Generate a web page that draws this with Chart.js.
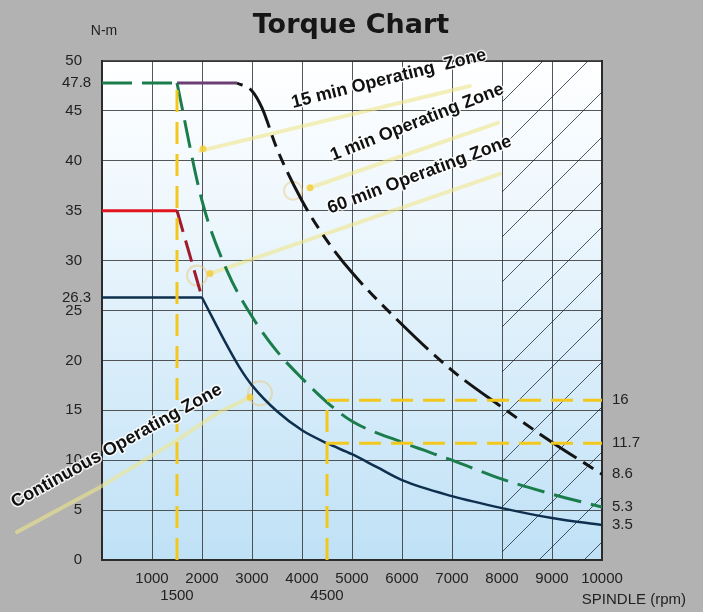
<!DOCTYPE html>
<html>
<head>
<meta charset="utf-8">
<title>Torque Chart</title>
<script src="https://cdn.jsdelivr.net/npm/chart.js@4/dist/chart.umd.min.js"></script>
<style>
  html, body { margin: 0; padding: 0; background: #b2b2b2; }
  #torque-chart { display: block; }
</style>
</head>
<body>
<canvas id="torque-chart" width="703" height="612"></canvas>
<script>
// spindle speed (rpm) / torque (N-m)
const continuousRpm = [0, 2000, 2500, 2750, 3000, 3500, 4000, 4500, 5000, 5500, 6000, 7000, 8000, 9000, 10000];
const continuousTorque = [26.3, 26.3, 21.5, 19.3, 17.5, 14.9, 13.0, 11.7, 10.6, 9.3, 8.0, 6.4, 5.2, 4.2, 3.5];

const min60Rpm = [0, 1500, 2000];
const min60Torque = [35, 35, 26.3];

const min1Rpm = [0, 1500, 2000, 2500, 3000, 3500, 4000, 4500, 5000, 6000, 7000, 8000, 9000, 10000];
const min1Torque = [47.8, 47.8, 36, 29, 24.4, 20.9, 18.2, 15.8, 13.9, 11.8, 10.0, 8.1, 6.6, 5.3];

const min15Rpm = [1500, 2700, 3000, 3200, 3500, 4000, 4500, 5000, 6000, 7000, 8000, 9000, 10000];
const min15Torque = [47.8, 47.8, 47, 45.3, 41.2, 36, 32, 28.8, 23.6, 19, 15.3, 11.8, 8.6];

// yellow guide lines: [rpm from, rpm to], [torque from, torque to]
const guideRpm = [[1500, 1500], [4500, 4500], [4500, 10000], [4500, 10000]];
const guideTorque = [[0, 47.8], [0, 16], [16, 16], [11.7, 11.7]];

const xTicks = [0, 1000, 1500, 2000, 3000, 4000, 4500, 5000, 6000, 7000, 8000, 9000, 10000];
const leftExtraTicks = [47.8, 26.3];
const rightTicks = [16, 11.7, 8.6, 5.3, 3.5];
const hatchFrom = 8000;

// zone labels: text, anchor [rpm, torque], angle in degrees
const zoneLabels = [
    ["15 min Operating  Zone", [3820, 45.3], -14],
    ["1 min Operating Zone", [4620, 40.0], -21.5],
    ["60 min Operating Zone", [4560, 34.7], -20.5],
    ["Continuous Operating Zone", [-1740, 5.2], -29]
];
// pale pointer lines and the circles they point at
const pointerLines = [
    [[1960, 41], [7360, 47.5]],
    [[4160, 37.3], [7920, 43.8]],
    [[2160, 28.7], [7960, 38.7]],
    [[-1700, 2.8], [-40, 7.3], [1500, 12], [2300, 14.7], [2960, 16.3]]
];
const pointerCircles = [[3820, 37, 9], [1900, 28.5, 10], [3160, 16.7, 12]];
const pointerTips = [[2020, 41.2], [4160, 37.3], [2160, 28.7], [2960, 16.3]];

function toPoints(xs, ys) {
    return xs.map((x, i) => ({ x: x, y: ys[i] }));
}

const font = "'Liberation Sans', Arial, sans-serif";
const gridColor = "rgba(45,45,45,0.8)";

const continuousPts = toPoints(continuousRpm, continuousTorque);
const min60Pts = toPoints(min60Rpm, min60Torque);
const min1Pts = toPoints(min1Rpm, min1Torque);
const min15Pts = toPoints(min15Rpm, min15Torque);

const datasets = [];

guideRpm.forEach((xs, i) => {
    datasets.push({
        data: toPoints(xs, guideTorque[i]),
        borderColor: "#f3c81c",
        borderWidth: 3,
        borderDash: [22, 10]
    });
});

datasets.push(
    {
        // 60 min: flat red then dashed drop
        data: min60Pts,
        borderColor: "#e2141e",
        borderWidth: 3,
        segment: {
            borderColor: c => c.p0.parsed.x >= 1500 ? "#a01a2c" : undefined,
            borderDash: c => c.p0.parsed.x >= 1500 ? [22, 9] : undefined
        }
    },
    {
        data: min1Pts.slice(0, 2),
        borderColor: "#1b7d4c",
        borderWidth: 3,
        borderDash: [30, 10]
    },
    {
        data: min1Pts.slice(1),
        borderColor: "#1b7d4c",
        borderWidth: 3,
        borderDash: [28, 10],
        cubicInterpolationMode: "monotone"
    },
    {
        data: min15Pts.slice(0, 2),
        borderColor: "#6b3f73",
        borderWidth: 3
    },
    {
        data: min15Pts.slice(1),
        borderColor: "#141414",
        borderWidth: 3,
        borderDash: [44, 8, 12, 8, 12, 8],
        borderDashOffset: -14,
        cubicInterpolationMode: "monotone"
    },
    {
        data: continuousPts.slice(0, 2),
        borderColor: "#0e2f4e",
        borderWidth: 2.5
    },
    {
        data: continuousPts.slice(1),
        borderColor: "#0e2f4e",
        borderWidth: 2.5,
        cubicInterpolationMode: "monotone"
    }
);

const torqueDecor = {
    id: "torqueDecor",
    beforeDraw(chart) {
        const ctx = chart.ctx;
        const a = chart.chartArea;
        ctx.save();
        ctx.fillStyle = "#b2b2b2";
        ctx.fillRect(0, 0, chart.width, chart.height);
        const g = ctx.createLinearGradient(0, a.top, 0, a.bottom);
        g.addColorStop(0, "#ffffff");
        g.addColorStop(0.3, "#eef7fd");
        g.addColorStop(1, "#bfe1f6");
        ctx.fillStyle = g;
        ctx.fillRect(a.left, a.top, a.right - a.left, a.bottom - a.top);
        ctx.restore();
    },
    beforeDatasetsDraw(chart) {
        const ctx = chart.ctx;
        const a = chart.chartArea;
        const xs = chart.scales.x;
        const ys = chart.scales.y;

        // hatched area beyond 8000 rpm
        const x0 = xs.getPixelForValue(hatchFrom);
        const w = a.right - x0;
        ctx.save();
        ctx.beginPath();
        ctx.rect(x0, a.top, w, a.bottom - a.top);
        ctx.clip();
        ctx.strokeStyle = "rgba(25,35,55,0.85)";
        ctx.lineWidth = 0.9;
        for (let y = a.top + 41 - 45 * 5; y < a.bottom + w + 45; y += 45) {
            ctx.beginPath();
            ctx.moveTo(x0, y);
            ctx.lineTo(a.right, y - w);
            ctx.stroke();
        }
        ctx.restore();

        // pale pointer lines
        ctx.save();
        ctx.strokeStyle = "rgba(238,230,140,0.6)";
        ctx.lineWidth = 4;
        ctx.lineCap = "round";
        ctx.lineJoin = "round";
        pointerLines.forEach(pts => {
            ctx.beginPath();
            pts.forEach((p, i) => {
                const px = xs.getPixelForValue(p[0]);
                const py = ys.getPixelForValue(p[1]);
                if (i === 0) ctx.moveTo(px, py);
                else ctx.lineTo(px, py);
            });
            ctx.stroke();
        });
        ctx.strokeStyle = "rgba(236,200,120,0.5)";
        ctx.lineWidth = 2;
        pointerCircles.forEach(c => {
            ctx.beginPath();
            ctx.arc(xs.getPixelForValue(c[0]), ys.getPixelForValue(c[1]), c[2], 0, Math.PI * 2);
            ctx.stroke();
        });
        ctx.fillStyle = "rgba(244,204,50,0.8)";
        pointerTips.forEach(p => {
            ctx.beginPath();
            ctx.arc(xs.getPixelForValue(p[0]), ys.getPixelForValue(p[1]), 3.5, 0, Math.PI * 2);
            ctx.fill();
        });
        ctx.restore();
    },
    afterDraw(chart) {
        const ctx = chart.ctx;
        const a = chart.chartArea;
        const xs = chart.scales.x;
        const ys = chart.scales.y;
        ctx.save();

        // top border
        ctx.strokeStyle = "#2b2b2b";
        ctx.lineWidth = 1.5;
        ctx.beginPath();
        ctx.moveTo(a.left, a.top);
        ctx.lineTo(a.right, a.top);
        ctx.stroke();

        // title and axis captions
        ctx.fillStyle = "#161616";
        ctx.textAlign = "center";
        ctx.textBaseline = "alphabetic";
        ctx.font = "bold 27px 'DejaVu Sans', sans-serif";
        ctx.fillText("Torque Chart", 351, 33);
        ctx.textBaseline = "middle";
        ctx.font = "14px " + font;
        ctx.fillStyle = "#222";
        ctx.fillText("N-m", 104, 31);
        ctx.textAlign = "right";
        ctx.font = "15px " + font;
        ctx.fillText("SPINDLE (rpm)", 686, 600);

        // extra torque ticks on the left
        ctx.textAlign = "left";
        leftExtraTicks.forEach(v => {
            ctx.fillText(String(v), 62, ys.getPixelForValue(v));
        });

        // rotated zone labels
        ctx.font = "bold 18px " + font;
        ctx.textBaseline = "alphabetic";
        ctx.lineJoin = "round";
        zoneLabels.forEach(z => {
            ctx.save();
            ctx.translate(xs.getPixelForValue(z[1][0]), ys.getPixelForValue(z[1][1]));
            ctx.rotate(z[2] * Math.PI / 180);
            ctx.strokeStyle = "rgba(255,255,255,0.85)";
            ctx.lineWidth = 3;
            ctx.strokeText(z[0], 0, 0);
            ctx.fillStyle = "#111";
            ctx.fillText(z[0], 0, 0);
            ctx.restore();
        });
        ctx.restore();
    }
};

let torqueChart;

function createTorqueChart() {
    const canvas = document.getElementById("torque-chart");
    torqueChart = new Chart(canvas.getContext("2d"), {
        type: "line",
        data: { datasets: datasets },
        options: {
            responsive: false,
            animation: false,
            events: [],
            layout: { padding: { top: 61, left: 0, right: 0, bottom: 0 } },
            elements: { point: { radius: 0 }, line: { fill: false } },
            plugins: {
                legend: { display: false },
                tooltip: { enabled: false },
                title: { display: false }
            },
            scales: {
                x: {
                    type: "linear",
                    min: 0,
                    max: 10000,
                    afterBuildTicks: s => { s.ticks = xTicks.map(v => ({ value: v })); },
                    afterFit: s => { s.height = 52; },
                    grid: {
                        drawTicks: false,
                        color: c => c.tick && c.tick.value % 1000 === 0 ? gridColor : "rgba(0,0,0,0)"
                    },
                    border: { color: "#2b2b2b", width: 2 },
                    ticks: {
                        autoSkip: false,
                        maxRotation: 0,
                        padding: 11,
                        color: "#222",
                        font: { family: font, size: 15, lineHeight: 1.1 },
                        callback: v => v === 0 ? "" : (v % 1000 === 0 ? String(v) : ["", String(v)])
                    }
                },
                y: {
                    type: "linear",
                    position: "left",
                    min: 0,
                    max: 50,
                    afterFit: s => { s.width = 102; },
                    grid: { drawTicks: false, color: gridColor },
                    border: { color: "#2b2b2b", width: 2 },
                    ticks: {
                        stepSize: 5,
                        padding: 20,
                        color: "#222",
                        font: { family: font, size: 15 }
                    }
                },
                y2: {
                    type: "linear",
                    position: "right",
                    min: 0,
                    max: 50,
                    afterBuildTicks: s => { s.ticks = rightTicks.map(v => ({ value: v })); },
                    afterFit: s => { s.width = 101; },
                    grid: { display: false, drawTicks: false },
                    border: { color: "#2b2b2b", width: 2 },
                    ticks: {
                        autoSkip: false,
                        padding: 10,
                        color: "#222",
                        font: { family: font, size: 15 }
                    }
                }
            }
        },
        plugins: [torqueDecor]
    });
}

createTorqueChart();
</script>
</body>
</html>
